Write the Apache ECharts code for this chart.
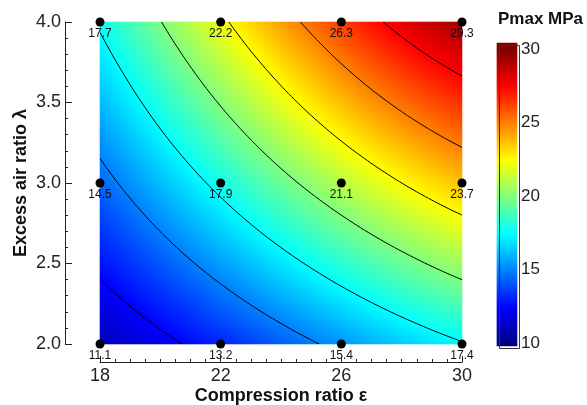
<!DOCTYPE html>
<html><head><meta charset="utf-8">
<script src="https://cdn.jsdelivr.net/npm/echarts@6/dist/echarts.min.js"></script>
<style>html,body{margin:0;padding:0;background:#fff}#c{width:587px;height:405px}</style>
</head><body><div id="c"></div>
<script>
// ---- data ----
const compressionRatios = [18, 22, 26, 30];      // x: compression ratio ε
const excessAirRatios = [2.0, 3.0, 4.0];          // y: excess air ratio λ
const pmaxAtLambda2 = [11.1, 13.2, 15.4, 17.4];   // Pmax (MPa) at λ = 2.0
const pmaxAtLambda3 = [14.5, 17.9, 21.1, 23.7];   // Pmax (MPa) at λ = 3.0
const pmaxAtLambda4 = [17.7, 22.2, 26.3, 29.3];   // Pmax (MPa) at λ = 4.0
const contourLevels = [12.5, 15, 17.5, 20, 22.5, 25, 27.5];
const xTickValues = [18, 22, 26, 30];
const yTickValues = [2.0, 2.5, 3.0, 3.5, 4.0];
const colorbarTicks = [10, 15, 20, 25, 30];
const colorbarRange = [9.9, 30.4];
const jetColors = ['#000080','#0000ff','#0080ff','#00ffff','#80ff80','#ffff00','#ff8000','#ff0000','#800000'];

const rows = [pmaxAtLambda2, pmaxAtLambda3, pmaxAtLambda4];
const X0 = compressionRatios[0], X1 = compressionRatios[compressionRatios.length - 1];
const Y0 = excessAirRatios[0], Y1 = excessAirRatios[excessAirRatios.length - 1];

function lagrange(xs, ys, x) {
  let s = 0;
  for (let i = 0; i < xs.length; i++) {
    let w = 1;
    for (let j = 0; j < xs.length; j++) if (j !== i) w *= (x - xs[j]) / (xs[i] - xs[j]);
    s += w * ys[i];
  }
  return s;
}
function field(x, y) {
  const col = rows.map(r => lagrange(compressionRatios, r, x));
  return lagrange(excessAirRatios, col, y);
}
function bisect(fn, lo, hi, target) {
  for (let k = 0; k < 60; k++) { const m = (lo + hi) / 2; if (fn(m) < target) lo = m; else hi = m; }
  return (lo + hi) / 2;
}

// surface cells (category grid, drawn through the heatmap's axes)
const NX = 181, NY = 161;
const xCats = [], yCats = [], cells = [];
for (let i = 0; i < NX; i++) xCats.push(i);
for (let j = 0; j < NY; j++) yCats.push(j);
for (let i = 0; i < NX; i++) {
  const x = X0 + (i + 0.5) * (X1 - X0) / NX;
  for (let j = 0; j < NY; j++) {
    const y = Y0 + (j + 0.5) * (Y1 - Y0) / NY;
    cells.push([i, j, field(x, y)]);
  }
}

// contour polylines
function contour(L) {
  if (L > field(X1, Y1) || L < field(X0, Y0)) return [];
  const xa = field(X0, Y1) >= L ? X0 : bisect(x => field(x, Y1), X0, X1, L);
  const xb = field(X1, Y0) <= L ? X1 : bisect(x => field(x, Y0), X0, X1, L);
  const pts = [];
  const N = 160;
  for (let k = 0; k <= N; k++) {
    const x = xa + (xb - xa) * k / N;
    let y;
    if (field(x, Y0) >= L) y = Y0; else if (field(x, Y1) <= L) y = Y1;
    else y = bisect(yy => field(x, yy), Y0, Y1, L);
    pts.push([x, y]);
  }
  return pts;
}

// colorbar cells
const NC = 303, cbCats = [], cbCells = [];
for (let k = 0; k < NC; k++) {
  cbCats.push(k);
  cbCells.push([0, k, colorbarRange[0] + (k + 0.5) * (colorbarRange[1] - colorbarRange[0]) / NC]);
}

const points = [];
excessAirRatios.forEach((y, r) => compressionRatios.forEach((x, c) => points.push([x, y, rows[r][c]])));

const FONT = '"Liberation Sans", Arial, Helvetica, sans-serif';
const chart = echarts.init(document.getElementById('c'), null, {renderer: 'canvas'});

const series = [
  {type: 'heatmap', xAxisIndex: 0, yAxisIndex: 0, data: cells, silent: true, progressive: 0, z: 1},
  {type: 'heatmap', xAxisIndex: 2, yAxisIndex: 2, data: cbCells, silent: true, progressive: 0, z: 1}
];
contourLevels.forEach(L => series.push({
  type: 'line', xAxisIndex: 1, yAxisIndex: 1, data: contour(L), showSymbol: false, smooth: false,
  lineStyle: {color: '#000', width: 1}, silent: true, z: 3, animation: false
}));
series.push({
  type: 'scatter', xAxisIndex: 1, yAxisIndex: 1, data: points, symbolSize: 9,
  itemStyle: {color: '#000', opacity: 1}, z: 5,
  label: {show: true, position: 'bottom', distance: 1, fontSize: 12, color: '#111', fontFamily: FONT,
    formatter: p => p.value[2].toFixed(1)}
});

const gridBase = {outerBoundsMode: 'none', containLabel: false};
chart.setOption({
  animation: false,
  backgroundColor: '#fff',
  textStyle: {fontFamily: FONT},
  title: {text: 'Pmax MPa', left: 493, top: 6, textStyle: {fontSize: 17, fontWeight: 'bold', color: '#111', fontFamily: FONT}},
  grid: [
    Object.assign({left: 100, top: 22, width: 362, height: 322}, gridBase),
    Object.assign({left: 100, top: 22, width: 362, height: 322}, gridBase),
    Object.assign({left: 497, top: 43, width: 20, height: 303}, gridBase),
    Object.assign({left: 497, top: 49, width: 20, height: 294}, gridBase)
  ],
  visualMap: {type: 'continuous', show: false, min: 10, max: 30, dimension: 2, seriesIndex: [0, 1],
    inRange: {color: jetColors}},
  xAxis: [
    {type: 'category', gridIndex: 0, data: xCats, show: false},
    {type: 'value', gridIndex: 1, min: xTickValues[0], max: xTickValues[xTickValues.length - 1], interval: 4, offset: 18,
      axisLine: {show: true, lineStyle: {color: '#222', width: 1}},
      axisTick: {show: true, inside: true, length: 6, lineStyle: {color: '#222'}},
      minorTick: {show: true, splitNumber: 8, length: 3, lineStyle: {color: '#222'}},
      splitLine: {show: false},
      axisLabel: {fontSize: 18, color: '#222', margin: 5, fontFamily: FONT},
      name: 'Compression ratio ε', nameLocation: 'middle', nameGap: 25, nameMoveOverlap: false,
      nameTextStyle: {fontSize: 18, fontWeight: 'bold', color: '#111', fontFamily: FONT}},
    {type: 'category', gridIndex: 2, data: ['c'], show: false},
    {type: 'value', gridIndex: 3, show: false, min: 0, max: 1}
  ],
  yAxis: [
    {type: 'category', gridIndex: 0, data: yCats, show: false},
    {type: 'value', gridIndex: 1, min: yTickValues[0], max: yTickValues[yTickValues.length - 1], interval: 0.5, offset: 35,
      axisLine: {show: true, lineStyle: {color: '#222', width: 1}},
      axisTick: {show: true, inside: true, length: 7, lineStyle: {color: '#222'}},
      minorTick: {show: true, splitNumber: 5, length: 3, lineStyle: {color: '#222'}},
      splitLine: {show: false},
      axisLabel: {fontSize: 18, color: '#222', margin: 4, fontFamily: FONT, formatter: v => v.toFixed(1)},
      name: 'Excess air ratio λ', nameLocation: 'middle', nameGap: 35, nameRotate: 90, nameMoveOverlap: false,
      nameTextStyle: {fontSize: 18, fontWeight: 'bold', color: '#111', fontFamily: FONT}},
    {type: 'category', gridIndex: 2, data: cbCats, show: false},
    {type: 'value', gridIndex: 3, position: 'right', min: colorbarTicks[0], max: colorbarTicks[colorbarTicks.length - 1], interval: 5,
      axisLine: {show: false}, axisTick: {show: false}, splitLine: {show: false},
      axisLabel: {fontSize: 17, color: '#222', margin: 4, fontFamily: FONT}}
  ],
  graphic: [{type: 'rect', left: 497, top: 43, z: 100, silent: true,
    shape: {width: 20, height: 303}, style: {fill: 'none', stroke: '#333', lineWidth: 1}}],
  series: series
});
</script></body></html>
